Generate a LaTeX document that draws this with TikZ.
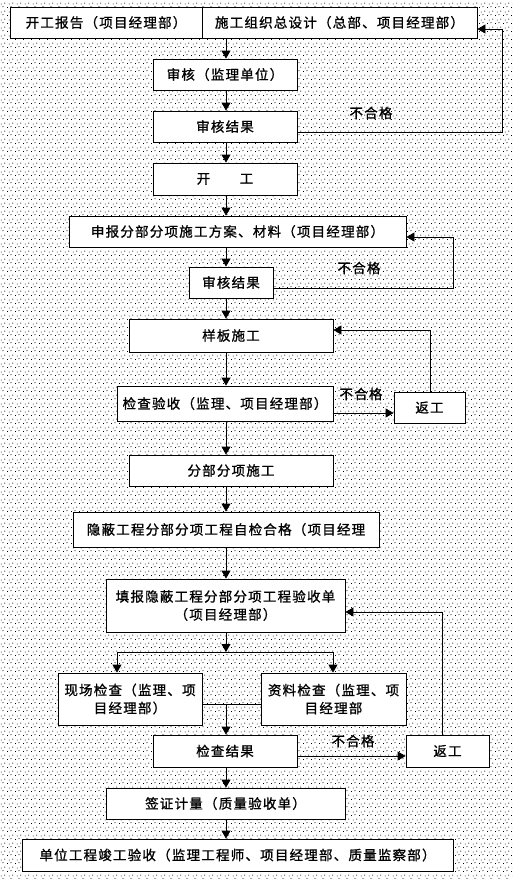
\documentclass[tikz,border=0pt]{standalone}
\usepackage{fontspec}
\setmainfont{Noto Sans CJK SC}[LetterSpace=9,FakeBold=1]
\usepackage{tikz}
\usetikzlibrary{arrows.meta,patterns}
\pgfdeclarepatternformonly{stipple}{\pgfpointorigin}{\pgfpoint{8pt}{8pt}}{\pgfpoint{8pt}{8pt}}{
\pgfpathrectangle{\pgfpoint{0pt}{0pt}}{\pgfpoint{1pt}{1pt}}
\pgfpathrectangle{\pgfpoint{4pt}{1pt}}{\pgfpoint{1pt}{1pt}}
\pgfpathrectangle{\pgfpoint{2pt}{4pt}}{\pgfpoint{1pt}{1pt}}
\pgfpathrectangle{\pgfpoint{6pt}{5pt}}{\pgfpoint{1pt}{1pt}}
\pgfusepath{fill}}
\tikzset{
flow/.style={x=1pt,y=-1pt,line width=0.8pt,
>={Triangle[length=8pt,width=9pt]},
font=\fontsize{13.5pt}{18pt}\selectfont},
stage/.style={draw,fill=white,align=center,inner sep=0pt,
minimum width=#1,minimum height=31pt},
stage/.default={144pt},
tall/.style={minimum height=#1},
fail/.style={inner sep=1pt,fill=none},
}

\begin{document}
\begin{tikzpicture}[flow]
                    \useasboundingbox (0,0) rectangle (513,879);
                    \fill[pattern=stipple,pattern color=black] (0,0) rectangle (513,879);
                    % spine of the chart
                    \coordinate (axis) at (226,0);
                    \node[stage=192pt] (report) at (106,22.5) {开工报告（项目经理部）};
                    \node[stage=275pt] (design) at (339.5,22.5) {施工组织总设计（总部、项目经理部）};
                    \node[stage] (audit) at (225,74.5) {审核（监理单位）};
                    \node[stage] (result) at (225,126.5) {审核结果};
                    \node[stage,tall=32pt] (start) at (225,179) {开\hspace{2.2em}工};
                    \node[stage=337pt] (plan) at (237.5,231.5) {申报分部分项施工方案、材料（项目经理部）};
                    \node[stage=84pt] (planres) at (231,282.5) {审核结果};
                    \node[stage=204pt,tall=33pt] (sample) at (231,335.5) {样板施工};
                    \node[stage=216pt,tall=35pt] (check) at (225,403.5) {检查验收（监理、项目经理部）};
                    \node[stage=71pt] (redo) at (429.5,407.5) {返工};
                    \node[stage=204pt] (work) at (231,470.5) {分部分项施工};
                    \node[stage=306pt,tall=35pt] (self) at (226,529.5) {隐蔽工程分部分项工程自检合格（项目经理};
                    \node[stage=239pt,tall=53pt] (form) at (225.5,605.5) {填报隐蔽工程分部分项工程验收单\\（项目经理部）};
                    \node[stage,tall=52pt] (site) at (130,699) {现场检查（监理、项\\目经理部）};
                    \node[stage=145pt,tall=52pt] (docs) at (333.5,699) {资料检查（监理、项\\目经理部};
                    \node[stage,tall=32pt] (final) at (225,751) {检查结果};
                    \node[stage=83pt,tall=32pt] (rework) at (447.5,751) {返工};
                    \node[stage=239pt] (sign) at (225.5,803.5) {签证计量（质量验收单）};
                    \node[stage=431pt,tall=32pt] (accept) at (237.5,855) {单位工程竣工验收（监理工程师、项目经理部、质量监察部）};

                    % main line
                    \draw[->] (report.south -| axis) -- (audit.north -| axis);
                    \draw[->] (audit.south -| axis) -- (result.north -| axis);
                    \draw[->] (result.south -| axis) -- (start.north -| axis);
                    \draw[->] (start.south -| axis) -- (plan.north -| axis);
                    \draw[->] (plan.south -| axis) -- (planres.north -| axis);
                    \draw[->] (planres.south -| axis) -- (sample.north -| axis);
                    \draw[->] (sample.south -| axis) -- (check.north -| axis);
                    \draw[->] (check.south -| axis) -- (work.north -| axis);
                    \draw[->] (work.south -| axis) -- (self.north -| axis);
                    \draw[->] (self.south -| axis) -- (form.north -| axis);
                    \draw[->] (final.south -| axis) -- (sign.north -| axis);
                    \draw[->] (sign.south -| axis) -- (accept.north -| axis);

                    % split and merge
                    \coordinate (fork) at (226,652);
                    \coordinate (join) at (226,704);
                    \draw[->] (form.south -| axis) -- (fork);
                    \draw[->] (117,652) -- (117,652 |- site.north);
                    \draw (117,652) -- (333,652);
                    \draw[->] (333,652) -- (docs.north -| 333,0);
                    \draw (site.east |- join) -- (docs.west |- join);
                    \draw[->] (join) -- (final.north -| axis);

                    % loops back
                    \coordinate (back1) at (502,29);
                    \coordinate (back2) at (453,237);
                    \coordinate (back3) at (430,330);
                    \coordinate (back4) at (442,612);
                    \draw[->] (result.east |- 0,132) -| (back1) -- (back1 -| design.east);
                    \draw[->] (planres.east |- 0,288) -| (back2) -- (back2 -| plan.east);
                    \draw[->] (check.east |- 0,413) -- (redo.west |- 0,413);
                    \draw[->] (redo.north -| back3) -- (back3) -- (back3 -| sample.east);
                    \draw[->] (final.east |- 0,756) -- (rework.west |- 0,756);
                    \draw[->] (rework.north -| back4) -- (back4) -- (back4 -| form.east);

                    \node[fail] (no1) at (371,113) {不合格};
                    \node[fail] (no2) at (359,268) {不合格};
                    \node[fail] (no3) at (361,394) {不合格};
                    \node[fail] (no4) at (353,741) {不合格};
                \end{tikzpicture}
\end{document}
